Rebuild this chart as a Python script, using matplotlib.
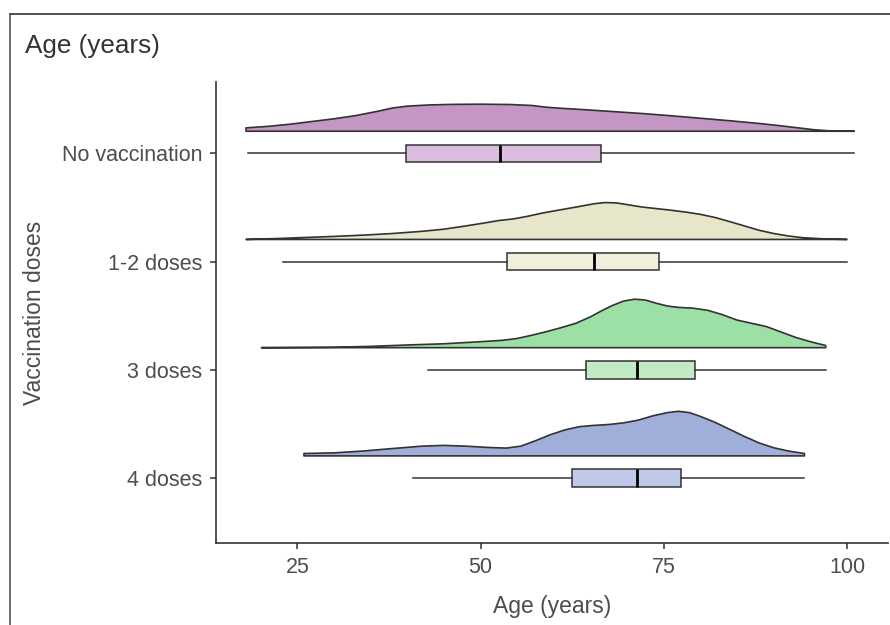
import numpy as np
import matplotlib
matplotlib.use("Agg")
import matplotlib.pyplot as plt
from matplotlib.lines import Line2D

plt.rcParams["font.family"] = ["Liberation Sans", "DejaVu Sans"]

# groups, top to bottom
groups = ["No vaccination", "1-2 doses", "3 doses", "4 doses"]
positions = [4, 3, 2, 1]

# box stats: whisker low, q1, median, q3, whisker high
whislo = [18.2, 23.0, 42.8, 40.8]
q1 = [39.8, 53.6, 64.4, 62.5]
med = [52.6, 65.5, 71.4, 71.4]
q3 = [66.5, 74.3, 79.2, 77.3]
whishi = [101.0, 100.0, 97.1, 94.2]

# half-violin outlines (age, height in y units)
dens_x_novac = [18, 21, 24, 27, 30, 33, 36, 38, 40, 43, 46, 50, 54, 57, 59, 61,
                64, 68, 72, 76, 80, 84, 88, 91, 93.5, 95.5, 97.5, 101]
dens_h_novac = [0.031, 0.045, 0.065, 0.090, 0.115, 0.145, 0.185, 0.215, 0.232,
                0.243, 0.248, 0.250, 0.247, 0.238, 0.222, 0.212, 0.200, 0.182,
                0.164, 0.143, 0.120, 0.097, 0.072, 0.050, 0.030, 0.014, 0.004,
                0.0]

dens_x_12 = [18, 22, 26, 30, 34, 38, 42, 45, 48, 50.5, 52.5, 54.5, 56.5, 58.5,
             61, 63.5, 65.5, 67, 68.5, 70, 72, 74, 76, 78, 80, 82, 84, 86, 88,
             90, 92, 94, 97, 100]
dens_h_12 = [0.0, 0.008, 0.018, 0.028, 0.040, 0.055, 0.075, 0.095, 0.125, 0.152,
             0.175, 0.190, 0.215, 0.245, 0.275, 0.305, 0.330, 0.341, 0.338,
             0.322, 0.300, 0.285, 0.270, 0.253, 0.232, 0.203, 0.165, 0.125,
             0.085, 0.055, 0.032, 0.016, 0.005, 0.0]

dens_x_3 = [20.1, 30, 35, 40, 45, 50, 53, 55, 57, 59, 61, 63, 65, 66.5, 68,
            69.5, 71, 72.5, 74, 75.5, 77, 79, 81, 83, 85, 87, 89, 91, 93, 95,
            97.1]
dens_h_3 = [0.0, 0.004, 0.012, 0.025, 0.036, 0.055, 0.068, 0.085, 0.115, 0.148,
            0.185, 0.225, 0.285, 0.340, 0.390, 0.430, 0.448, 0.440, 0.410,
            0.385, 0.372, 0.365, 0.345, 0.305, 0.255, 0.225, 0.195, 0.145,
            0.095, 0.055, 0.020]

dens_x_4 = [25.9, 30, 34, 38, 42, 45, 48, 51, 53.5, 55.5, 57.5, 59.5, 61.5,
            63.5, 65.5, 67.5, 69.5, 71.5, 73.5, 75.5, 77, 78.5, 80, 82, 84, 86,
            88, 90, 92, 94.2]
dens_h_4 = [0.022, 0.028, 0.045, 0.068, 0.090, 0.097, 0.090, 0.078, 0.072,
            0.090, 0.140, 0.195, 0.240, 0.270, 0.282, 0.290, 0.305, 0.330,
            0.370, 0.400, 0.412, 0.400, 0.365, 0.310, 0.245, 0.180, 0.120,
            0.075, 0.045, 0.022]

dens_x = [dens_x_novac, dens_x_12, dens_x_3, dens_x_4]
dens_h = [dens_h_novac, dens_h_12, dens_h_3, dens_h_4]

violin_colors = ["#C396C4", "#E8E6CA", "#9DE0A6", "#A0AEDA"]
box_colors = ["#DCBDDD", "#F0EFDE", "#C0EBC4", "#BFC9EA"]

dark = "#333333"
grey = "#4D4D4D"

fig = plt.figure(figsize=(8.9, 6.25), dpi=100)
ax = fig.add_axes([216 / 890, 1 - 543 / 625, (888 - 216) / 890, (543 - 82) / 625])

offset = 0.205
for i, p in enumerate(positions):
    x = np.array(dens_x[i], dtype=float)
    h = np.array(dens_h[i])
    base = p + offset
    px = np.r_[x, x[::-1]]
    py = np.r_[base + h, np.full(len(x), base)]
    ax.fill(px, py, facecolor=violin_colors[i], edgecolor=dark, linewidth=1.2,
            joinstyle="round", zorder=2)

stats = []
for i in range(len(groups)):
    stats.append(dict(whislo=whislo[i], q1=q1[i], med=med[i], q3=q3[i],
                      whishi=whishi[i], fliers=[]))

bp = ax.bxp(stats, positions=positions, widths=0.16, orientation="horizontal",
            showcaps=False, showfliers=False, patch_artist=True,
            boxprops=dict(edgecolor=dark, linewidth=1.1),
            whiskerprops=dict(color=dark, linewidth=1.1),
            medianprops=dict(color="black", linewidth=2.0))
for patch, c in zip(bp["boxes"], box_colors):
    patch.set_facecolor(c)

ax.set_xlim(13.9, 105.6)
ax.set_ylim(0.4, 4.66)
ax.set_xticks([25, 50, 75, 100])
ax.set_yticks(positions)
ax.set_yticklabels(groups)

for s in ["top", "right"]:
    ax.spines[s].set_visible(False)
for s in ["left", "bottom"]:
    ax.spines[s].set_color(dark)
    ax.spines[s].set_linewidth(1.2)
ax.tick_params(axis="both", direction="out", length=4, width=1.1, color=dark,
               labelcolor=grey, labelsize=15.5, pad=6)

ax.set_xlabel("Age (years)", fontsize=16.5, color=grey, labelpad=12)
ax.set_ylabel("Vaccination doses", fontsize=16.5, color=grey, labelpad=11)

fig.text(25 / 890, 1 - 46 / 625, "Age (years)", fontsize=18.8, color=dark,
         ha="left", va="center")

# outer frame (clipped at right and bottom)
fig.add_artist(Line2D([10 / 890, 1], [1 - 14 / 625, 1 - 14 / 625],
                      transform=fig.transFigure, color=dark, linewidth=1.2))
fig.add_artist(Line2D([10 / 890, 10 / 890], [0, 1 - 14 / 625],
                      transform=fig.transFigure, color="#555555", linewidth=1.2))

fig.savefig("out.png", dpi=100)
